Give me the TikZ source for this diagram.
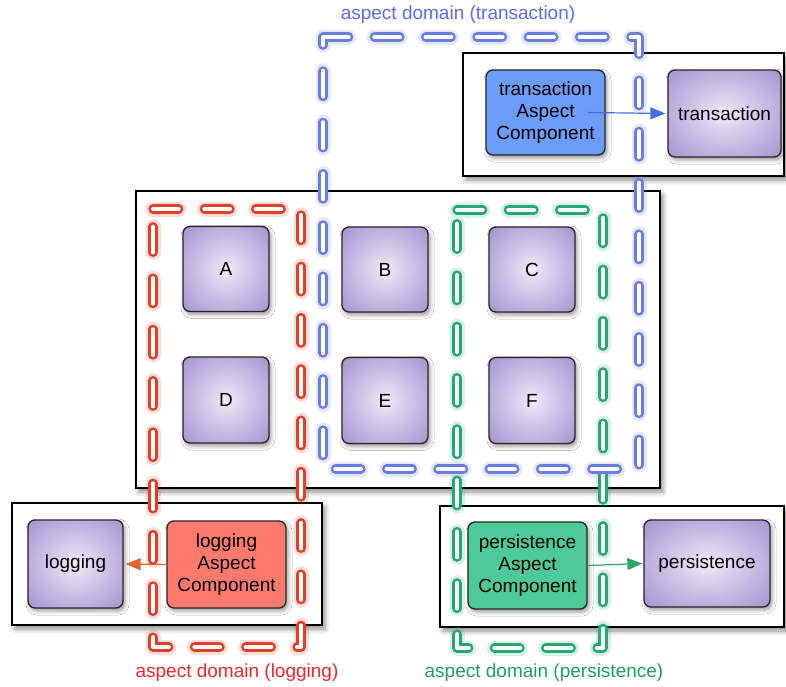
\documentclass[tikz,border=0pt]{standalone}
\usepackage{fontspec}
\setmainfont{Liberation Sans}
\usetikzlibrary{arrows.meta,shadows.blur}
\definecolor{modin}{HTML}{F2EEF9}
\definecolor{modmid}{HTML}{E2DAF2}
\definecolor{modout}{HTML}{9A88CC}
\definecolor{modcorner}{HTML}{8670BE}
\definecolor{tcompfill}{HTML}{6C9DFA}
\definecolor{lcompfill}{HTML}{FF7A6C}
\definecolor{pcompfill}{HTML}{4CCB98}
\definecolor{bluedom}{HTML}{6A7EE2}
\definecolor{reddom}{HTML}{E0402A}
\definecolor{greendom}{HTML}{25A874}
\definecolor{bluetxt}{HTML}{5C6EF0}
\definecolor{redtxt}{HTML}{F02828}
\definecolor{greentxt}{HTML}{20A060}
\definecolor{tarrow}{HTML}{4A6BE0}
\definecolor{larrow}{HTML}{E2652E}
\definecolor{parrow}{HTML}{2EA46E}
\pgfdeclareradialshading{modshade}{\pgfpoint{0bp}{0bp}}{color(0bp)=(modin); color(6bp)=(modmid); color(40bp)=(modout); color(50bp)=(modcorner)}
\tikzset{
  frame/.style={draw=black, line width=2.4pt, fill=white,
    blur shadow={shadow xshift=3pt, shadow yshift=-4pt, shadow blur radius=5pt, shadow opacity=45}},
  modbox/.style={draw=black!85, line width=1.3pt, rounded corners=7pt, shading=modshade,
    inner sep=0pt, font=\fontsize{19}{22}\selectfont,
    blur shadow={shadow xshift=2pt, shadow yshift=-3pt, shadow blur radius=4pt, shadow opacity=40}},
  compbox/.style={draw=black!85, line width=1.3pt, rounded corners=7pt, align=center,
    inner sep=0pt, font=\fontsize{19}{22}\selectfont,
    blur shadow={shadow xshift=2pt, shadow yshift=-3pt, shadow blur radius=4pt, shadow opacity=40}},
  domline/.style={line width=2.6pt, double=white, double distance=4pt, line cap=round,
    line join=round, dash pattern=on 25.7pt off 25.6pt},
  domglow/.style={line width=15pt, line cap=round, line join=round, opacity=0.18,
    dash pattern=on 25.7pt off 25.6pt},
  domlabel/.style={font=\fontsize{19}{22}\selectfont, inner sep=0pt},
  arr/.style={line width=1.2pt, -{Triangle[length=15pt,width=12pt]}},
}
\begin{document}
\begin{tikzpicture}[x=1pt,y=-1pt]
\useasboundingbox (0,0) rectangle (786,686);
% frames
\draw[frame] (136,191) rectangle (660,488);
\draw[frame] (463,53) rectangle (784,176);
\draw[frame] (12,503) rectangle (322,625);
\draw[frame] (440,506) rectangle (784,627);
% modules
\node[modbox, minimum width=86pt, minimum height=85pt] (A) at (226,269) {A};
\node[modbox, minimum width=86pt, minimum height=85pt] (B) at (385,269.5) {B};
\node[modbox, minimum width=86pt, minimum height=85pt] (C) at (532,269.5) {C};
\node[modbox, minimum width=86pt, minimum height=86pt] (D) at (226,400) {D};
\node[modbox, minimum width=86pt, minimum height=86pt] (E) at (385,400.5) {E};
\node[modbox, minimum width=86pt, minimum height=86pt] (F) at (532,400.5) {F};
\node[modbox, minimum width=113pt, minimum height=87pt] (tmod) at (724.5,113.5) {transaction};
\node[modbox, minimum width=95pt, minimum height=88pt] (lmod) at (75.5,564) {logging};
\node[modbox, minimum width=126pt, minimum height=87pt] (pmod) at (707,563.5) {persistence};
% aspect components
\node[compbox, fill=tcompfill, minimum width=119pt, minimum height=85pt] (tcomp) at (545.5,112.5) {transaction\\Aspect\\Component};
\node[compbox, fill=lcompfill, minimum width=119pt, minimum height=87pt] (lcomp) at (226.5,564.5) {logging\\Aspect\\Component};
\node[compbox, fill=pcompfill, minimum width=119pt, minimum height=87pt] (pcomp) at (527.5,565.5) {persistence\\Aspect\\Component};
% arrows
\draw[arr, tarrow] ([xshift=-18pt]tcomp.east) -- ([xshift=-2pt]tmod.west);
\draw[arr, larrow] (lcomp.west) -- ([xshift=2pt]lmod.east);
\draw[arr, parrow] (pcomp.east) -- ([xshift=-1pt]pmod.west);
% aspect domains
\draw[domglow, reddom] (153,209) -- (301,209) -- (301,647) -- (153,647) -- cycle;
\draw[domline, reddom] (153,209) -- (301,209) -- (301,647) -- (153,647) -- cycle;
\draw[domglow, greendom] (457,210) -- (603,210) -- (603,648) -- (457,648) -- cycle;
\draw[domline, greendom] (457,210) -- (603,210) -- (603,648) -- (457,648) -- cycle;
\draw[domglow, bluedom] (323,37) -- (639,37) -- (639,469) -- (323,469) -- cycle;
\draw[domline, bluedom] (323,37) -- (639,37) -- (639,469) -- (323,469) -- cycle;
% labels
\node[domlabel, text=bluetxt] (tlabel) at (458,15) {aspect domain (transaction)};
\node[domlabel, text=redtxt] (llabel) at (237,673) {aspect domain (logging)};
\node[domlabel, text=greentxt] (plabel) at (544,673) {aspect domain (persistence)};
\end{tikzpicture}
\end{document}
